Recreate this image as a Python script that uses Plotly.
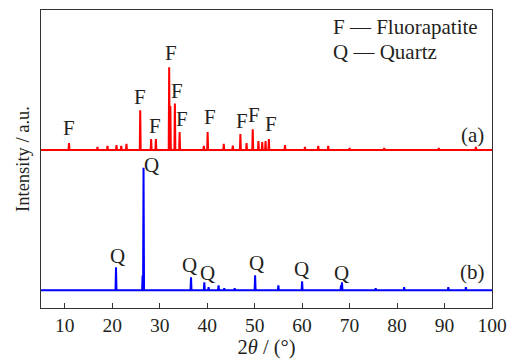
import plotly.graph_objects as go

# ---- data (2θ in degrees, intensity in arbitrary units) ----
red_pos = [10.9, 16.9, 19.0, 20.9, 21.9, 23.0, 25.9, 28.2, 29.2, 32.0, 32.25, 33.2, 34.2,
           39.3, 40.1, 43.5, 45.4, 47.0, 48.3, 49.6, 50.8, 51.6, 52.3, 53.0, 56.4,
           60.6, 63.4, 65.5, 70.0, 77.3, 88.8, 96.6]
red_int = [5.7, 2.4, 3.3, 4.0, 3.3, 5.0, 32.5, 9.0, 9.0, 67.5, 36.0, 38.0, 14.6,
           3.3, 14.6, 5.0, 3.5, 13.0, 5.7, 17.0, 7.3, 6.5, 7.3, 9.0, 4.0,
           2.4, 3.3, 3.3, 1.6, 1.6, 1.6, 2.4]
red_offset = 114.6

blue_pos = [20.8, 26.4, 26.6, 36.6, 39.4, 40.3, 42.4, 43.6, 45.8, 50.1, 55.0,
            60.0, 68.2, 68.4, 75.5, 81.5, 90.8, 94.5]
blue_int = [18.7, 12.0, 100.0, 10.6, 6.5, 2.4, 4.0, 1.6, 1.6, 12.2, 4.0,
            7.3, 4.0, 6.5, 1.6, 2.4, 2.4, 2.4]
blue_offset = 0.0

F_label_x = [10.9, 25.9, 29.0, 32.3, 33.7, 34.6, 40.7, 47.3, 49.9, 53.4]
F_label_y = [132.5, 157.7, 134.0, 194.0, 163.0, 140.0, 141.5, 138.0, 143.0, 135.8]
Q_label_x = [21.2, 28.3, 36.2, 40.0, 50.3, 59.9, 68.4]
Q_label_y = [27.9, 102.4, 20.6, 13.8, 22.5, 17.0, 14.4]

x_ticks = [10, 20, 30, 40, 50, 60, 70, 80, 90, 100]
x_range = [5, 100]
y_range = [-14.6, 229]


def stick_profile(pos, inten, offset, hw=0.1):
    xs, ys = [x_range[0]], [offset]
    for p, h in sorted(zip(pos, inten)):
        xs += [p - hw, p, p + hw]
        ys += [offset, offset + h, offset]
    xs.append(x_range[1])
    ys.append(offset)
    return xs, ys


FONT = "Liberation Serif, Times New Roman, serif"
TXT = "#231f20"
fig = go.Figure()
rx, ry = stick_profile(red_pos, red_int, red_offset)
bx, by = stick_profile(blue_pos, blue_int, blue_offset)
fig.add_trace(go.Scatter(x=rx, y=ry, mode="lines", line=dict(color="#ff0000", width=2),
                         showlegend=False, hoverinfo="skip"))
fig.add_trace(go.Scatter(x=bx, y=by, mode="lines", line=dict(color="#0000ff", width=2),
                         showlegend=False, hoverinfo="skip"))

ann = []
for x, y in zip(F_label_x, F_label_y):
    ann.append(dict(x=x, y=y, text="F", showarrow=False, xanchor="center", yanchor="middle"))
for x, y in zip(Q_label_x, Q_label_y):
    ann.append(dict(x=x, y=y, text="Q", showarrow=False, xanchor="center", yanchor="middle"))
ann.append(dict(x=95.8, y=126.8, text="(a)", showarrow=False, xanchor="center", yanchor="middle"))
ann.append(dict(x=95.9, y=14.9, text="(b)", showarrow=False, xanchor="center", yanchor="middle"))
ann.append(dict(x=66.1, y=215.4, text="F — Fluorapatite", showarrow=False, xanchor="left", yanchor="middle"))
ann.append(dict(x=66.1, y=194.3, text="Q — Quartz", showarrow=False, xanchor="left", yanchor="middle"))
for a in ann:
    a["font"] = dict(family=FONT, size=21, color=TXT)

fig.update_layout(
    width=516, height=360,
    margin=dict(l=41, r=21, t=9, b=51),
    paper_bgcolor="white", plot_bgcolor="white",
    font=dict(family=FONT, size=20, color=TXT),
    annotations=ann,
    xaxis=dict(range=x_range, tickvals=x_ticks, ticks="inside", ticklen=5, tickwidth=1,
               tickcolor="#333", showline=True, linecolor="#333", linewidth=1, mirror=True,
               showgrid=False, zeroline=False, tickfont=dict(family=FONT, size=19.5, color=TXT),
               title=dict(text="2<i>θ</i> / (°)", standoff=0, font=dict(family=FONT, size=20.5, color=TXT))),
    yaxis=dict(range=y_range, showticklabels=False, ticks="", showline=True, linecolor="#333",
               linewidth=1, mirror=True, showgrid=False, zeroline=False,
               title=dict(text="Intensity / a.u.", standoff=5, font=dict(family=FONT, size=18.5, color=TXT))),
)
fig.write_html("out.html")
